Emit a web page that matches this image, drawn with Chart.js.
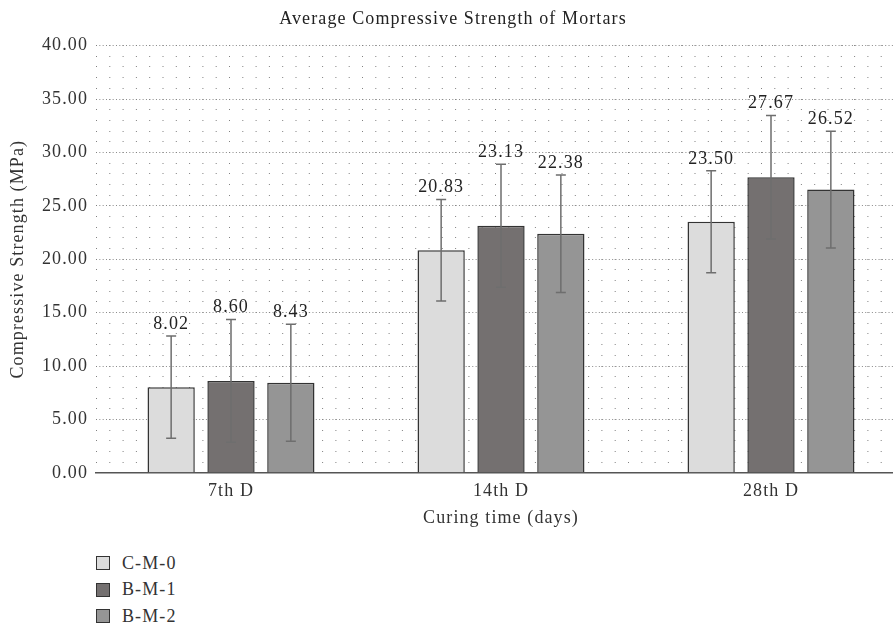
<!DOCTYPE html>
<html lang="en">
<head>
  <meta charset="UTF-8" />
  <title>Average Compressive Strength of Mortars</title>
  <script src="https://cdn.jsdelivr.net/npm/chart.js"></script>
  <style>
    html, body {
      margin: 0;
      padding: 0;
      background: #fff;
      overflow: hidden;
      font-family: "Liberation Serif", "Times New Roman", serif;
    }
    .chart-box {
      position: relative;
      width: 908px;
      height: 533px;
    }
    .legend {
      position: absolute;
      left: 96px;
      top: 550px;
      color: #333;
      font-size: 18px;
      letter-spacing: 1.1px;
    }
    .legend div {
      display: flex;
      align-items: center;
      height: 26.5px;
    }
    .legend span.box {
      width: 12px;
      height: 12px;
      border: 1.5px solid #333;
      margin-right: 12px;
    }
  </style>
</head>
<body>
  <div class="chart-box">
    <canvas id="strengthChart"></canvas>
  </div>
  <div class="legend" id="legend"></div>

  <script>
  const categories = ['7th D', '14th D', '28th D'];
  const seriesNames = ['C-M-0', 'B-M-1', 'B-M-2'];
  const cm0 = [8.02, 20.83, 23.50];
  const bm1 = [8.60, 23.13, 27.67];
  const bm2 = [8.43, 22.38, 26.52];
  // error bar half-lengths
  const cm0Err = [4.78, 4.75, 4.78];
  const bm1Err = [5.75, 5.75, 5.78];
  const bm2Err = [5.48, 5.50, 5.47];
  const yTicks = [0, 5, 10, 15, 20, 25, 30, 35, 40];

  const colors = ['#dcdcdc', '#747070', '#959595'];
  const serif = '"Liberation Serif", "Times New Roman", serif';

  // the original font is wider than Times, so space the letters out a bit
  const spacing = {
    id: 'spacing',
    beforeUpdate(chart) { chart.ctx.letterSpacing = '1.1px'; },
    beforeDraw(chart) { chart.ctx.letterSpacing = '1.1px'; }
  };

  const errorBars = {
    id: 'errorBars',
    afterDatasetsDraw(chart) {
      const ctx = chart.ctx;
      const y = chart.scales.y;
      ctx.save();
      chart.data.datasets.forEach((ds, i) => {
        const meta = chart.getDatasetMeta(i);
        meta.data.forEach((bar, j) => {
          const v = ds.data[j], e = ds.errors[j];
          const top = y.getPixelForValue(v + e);
          const bot = y.getPixelForValue(v - e);
          ctx.strokeStyle = '#6e6e6e';
          ctx.lineWidth = 1.5;
          ctx.beginPath();
          ctx.moveTo(bar.x, top);
          ctx.lineTo(bar.x, bot);
          ctx.moveTo(bar.x - 5, top);
          ctx.lineTo(bar.x + 5, top);
          ctx.moveTo(bar.x - 5, bot);
          ctx.lineTo(bar.x + 5, bot);
          ctx.stroke();
          ctx.fillStyle = '#222';
          ctx.font = '18px ' + serif;
          ctx.textAlign = 'center';
          ctx.textBaseline = 'bottom';
          ctx.fillText(v.toFixed(2), bar.x, top - 3);
        });
      });
      ctx.restore();
    }
  };

  const ctx = document.getElementById('strengthChart').getContext('2d');
  const chart = new Chart(ctx, {
    type: 'bar',
    data: {
      labels: categories,
      datasets: [
        { label: seriesNames[0], data: cm0, errors: cm0Err, backgroundColor: colors[0] },
        { label: seriesNames[1], data: bm1, errors: bm1Err, backgroundColor: colors[1] },
        { label: seriesNames[2], data: bm2, errors: bm2Err, backgroundColor: colors[2] }
      ].map(d => Object.assign(d, {
        borderColor: '#333',
        borderWidth: 1.5,
        barPercentage: 0.79,
        categoryPercentage: 0.665
      }))
    },
    options: {
      responsive: true,
      maintainAspectRatio: false,
      animation: false,
      layout: { padding: { right: 2 } },
      plugins: {
        legend: { display: false },
        tooltip: { enabled: false },
        title: {
          display: true,
          text: 'Average Compressive Strength of Mortars',
          color: '#222',
          font: { family: serif, size: 18, weight: 'normal' },
          padding: { top: 8, bottom: 16 }
        }
      },
      scales: {
        x: {
          grid: { drawOnChartArea: false, drawTicks: false },
          border: { color: '#555', width: 1.5 },
          ticks: { color: '#333', padding: 8, font: { family: serif, size: 18 } },
          title: {
            display: true,
            text: 'Curing time (days)',
            color: '#333',
            padding: { top: -3, bottom: 4 },
            font: { family: serif, size: 18 }
          }
        },
        y: {
          min: 0,
          max: 40,
          afterBuildTicks: s => { s.ticks = yTicks.map(v => ({ value: v })); },
          afterFit: s => { s.width = 96; },
          grid: { color: '#8a8a8a', lineWidth: 1, drawTicks: false },
          border: { display: false, dash: [1, 2.33] },
          ticks: {
            color: '#333',
            padding: 8,
            font: { family: serif, size: 18 },
            callback: v => Number(v).toFixed(2)
          },
          title: {
            display: true,
            text: 'Compressive Strength (MPa)',
            color: '#333',
            padding: { top: 7, bottom: 4 },
            font: { family: serif, size: 18 }
          }
        },
        yMinor: {
          position: 'right',
          min: 0,
          max: 40,
          ticks: { display: false, stepSize: 1 },
          afterFit: s => { s.width = 0; },
          grid: { color: '#808080', lineWidth: 1, drawTicks: false },
          border: { display: false, dash: [1, 12.3] }
        }
      }
    },
    plugins: [spacing, errorBars]
  });

  document.getElementById('legend').innerHTML = seriesNames.map((n, i) =>
    `<div><span class="box" style="background:${colors[i]}"></span>${n}</div>`
  ).join('');
  </script>
</body>
</html>
